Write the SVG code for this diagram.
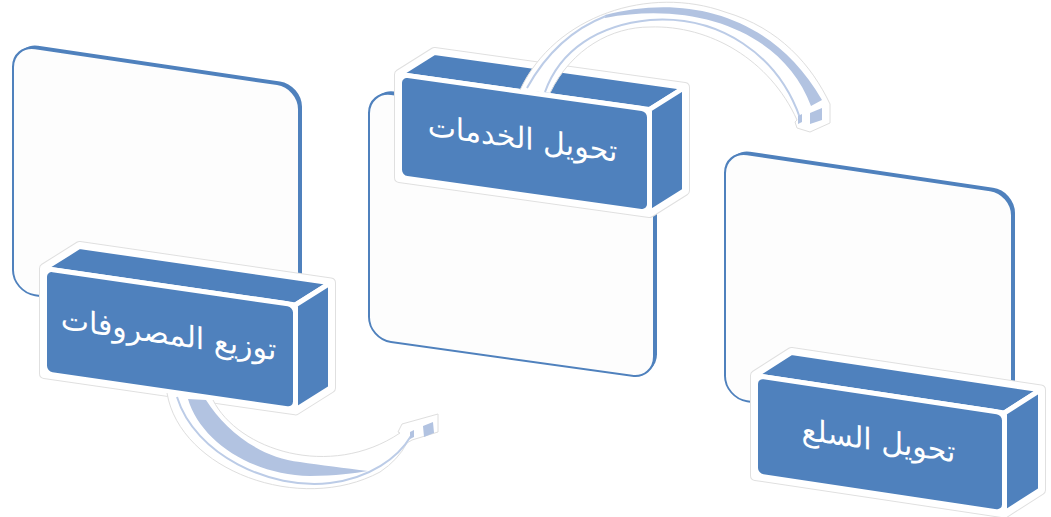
<svg xmlns="http://www.w3.org/2000/svg" width="1051" height="517" viewBox="0 0 1051 517">
<style>
.pback{fill:#4F81BD}
.pface{fill:#FDFDFD;stroke:#4F81BD;stroke-width:2}
.halo{fill:#fff;stroke:#E0E0E0;stroke-width:11;stroke-linejoin:round}
.halo2{fill:#fff;stroke:#fff;stroke-width:9;stroke-linejoin:round}
.face{fill:#4F81BD;stroke:#fff;stroke-width:5;stroke-linejoin:round}
.lbl{fill:#fff;font-family:'DejaVu Sans',sans-serif;font-size:30px;text-anchor:middle}
.afill{fill:#fff;stroke:none}
.aline{fill:none;stroke:#DEDEDE;stroke-width:1;stroke-linejoin:round}
.band{fill:#B2C3E1}
.thin{fill:none;stroke:#BCCCE7;stroke-width:2}
</style>
<g id="node1">
  <g transform="matrix(1,0.148,0,1,13,45)">
    <rect class="pback" x="3" y="-3" width="286" height="247" rx="22"/>
    <rect class="pface" x="0" y="0" width="286" height="247" rx="22"/>
  </g>
  <polygon class="halo" points="44.5,373.5 44.5,268.5 79.5,246.5 330.5,282.9 330.5,387.9 295.5,409.9"/>
  <polygon class="halo2" points="44.5,373.5 44.5,268.5 79.5,246.5 330.5,282.9 330.5,387.9 295.5,409.9"/>
  <polygon class="face" points="44.5,268.5 295.5,304.9 330.5,282.9 79.5,246.5"/>
  <polygon class="face" points="295.5,304.9 330.5,282.9 330.5,387.9 295.5,409.9"/>
  <g transform="matrix(1,0.145,0,1,44.5,268.5)">
    <rect class="face" x="0" y="0" width="251" height="105" rx="8"/>
    <text class="lbl" x="124" y="58">توزيع المصروفات</text>
  </g>
</g>
<g id="node2">
  <g transform="matrix(1,0.14,0,1,369,91)">
    <rect class="pback" x="3" y="-3" width="285" height="248" rx="22"/>
    <rect class="pface" x="0" y="0" width="285" height="248" rx="22"/>
  </g>
  <polygon class="halo" points="399.5,177.5 399.5,74.5 434.5,52.5 684.5,87.5 684.5,190.5 649.5,212.5"/>
  <polygon class="halo2" points="399.5,177.5 399.5,74.5 434.5,52.5 684.5,87.5 684.5,190.5 649.5,212.5"/>
  <polygon class="face" points="399.5,74.5 649.5,109.5 684.5,87.5 434.5,52.5"/>
  <polygon class="face" points="649.5,109.5 684.5,87.5 684.5,190.5 649.5,212.5"/>
  <g transform="matrix(1,0.14,0,1,399.5,74.5)">
    <rect class="face" x="0" y="0" width="250" height="103" rx="8"/>
    <text class="lbl" x="123" y="57">تحويل الخدمات</text>
  </g>
</g>
<g id="node3">
  <g transform="matrix(1,0.148,0,1,725,151)">
    <rect class="pback" x="3" y="-3" width="287" height="247" rx="22"/>
    <rect class="pface" x="0" y="0" width="287" height="247" rx="22"/>
  </g>
  <polygon class="halo" points="755.5,475.5 755.5,375.5 791.5,352.5 1040.5,389.9 1040.5,489.9 1004.5,512.9"/>
  <polygon class="halo2" points="755.5,475.5 755.5,375.5 791.5,352.5 1040.5,389.9 1040.5,489.9 1004.5,512.9"/>
  <polygon class="face" points="755.5,375.5 1004.5,412.9 1040.5,389.9 791.5,352.5"/>
  <polygon class="face" points="1004.5,412.9 1040.5,389.9 1040.5,489.9 1004.5,512.9"/>
  <g transform="matrix(1,0.15,0,1,755.5,375.5)">
    <rect class="face" x="0" y="0" width="249" height="100" rx="8"/>
    <text class="lbl" x="123" y="57">تحويل السلع</text>
  </g>
</g>
<g id="connectors">
  <g id="arrow1">
    <path class="afill" d="M 167 393 C 180 470, 300 515, 380 472 Q 398 460, 407 443 L 412 440 L 438 432 L 438 414 L 402 424 L 398 432 L 400 433 C 330 480, 238 450, 213 400 Z"/>
    <path class="aline" d="M 167 393 C 180 470, 300 515, 380 472 Q 398 460, 407 443 L 412 440 L 438 432 L 438 414 L 402 424 L 398 432 L 400 433 C 330 480, 238 450, 213 400"/>
    <path class="band" d="M 188 399 C 200 440, 250 475, 310 476 C 335 476, 355 473, 368 471 C 345 468, 320 465, 300 462 C 260 458, 225 430, 206 400 Z"/>
    <path class="thin" d="M 177 397 C 195 455, 270 490, 330 483 C 370 478, 398 458, 411 436"/>
    <polygon class="band" points="423,426 433,422 434,433 424,437"/>
    <polygon class="band" points="410,432 414,430 414,437 410,439"/>
  </g>
  <g id="arrow2">
    <path class="afill" d="M 520 90 C 555 15, 650 -15, 725 12 C 780 28, 812 66, 830 104 L 830 123 L 810 132 L 797 128 L 795 122 L 797 120 C 770 60, 710 25, 650 27 C 612 27, 572 48, 550 93 Z"/>
    <path class="aline" d="M 520 90 C 555 15, 650 -15, 725 12 C 780 28, 812 66, 830 104 L 830 123 L 810 132 L 797 128 L 795 122 L 797 120 C 770 60, 710 25, 650 27 C 612 27, 572 48, 550 93"/>
    <path class="band" d="M 605 15 C 680 -5, 770 10, 822 100 L 811 106 C 785 35, 700 0, 605 18 Z"/>
    <path class="thin" d="M 527 88 C 548 50, 575 28, 606 16"/>
    <path class="thin" d="M 545 92 C 560 50, 598 25, 650 20 C 720 15, 778 55, 800 118"/>
    <polygon class="band" points="810,113 822,108 822,120 810,124"/>
    <polygon class="band" points="798,116 802,114 802,122 798,124"/>
  </g>
</g>
</svg>
